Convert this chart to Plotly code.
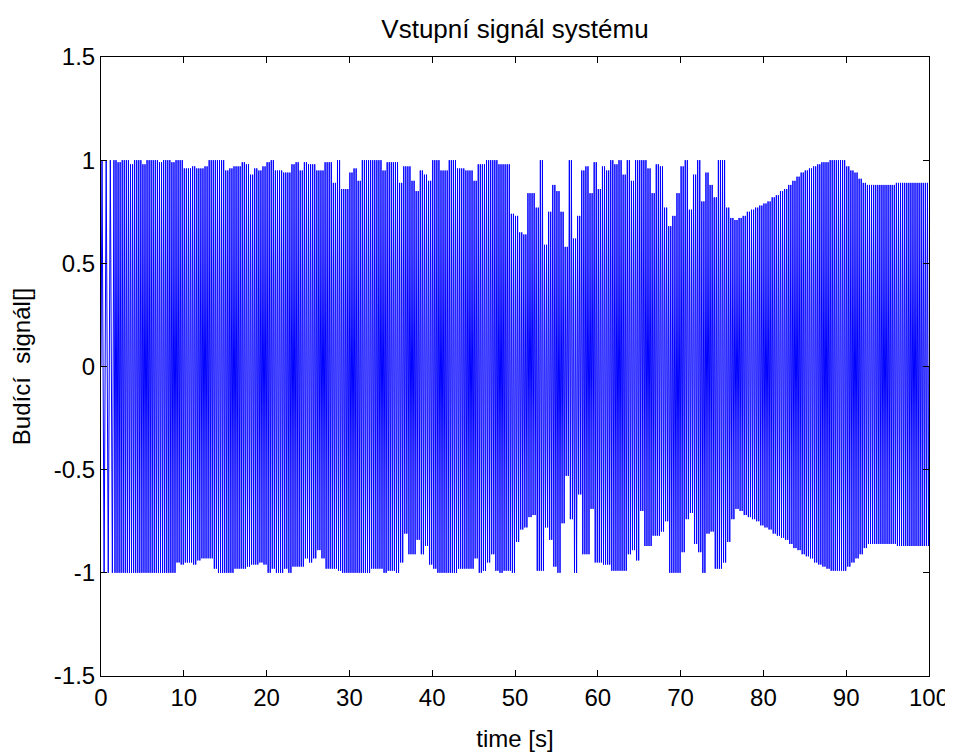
import numpy as np
import plotly.graph_objects as go

# Peak envelope of the oscillating input signal, read per half-second block (t = 0 ... 100 s)
upper_peaks = [
    1.0, 1.0, 1.0, 1.0, 0.99, 1.0, 1.0, 0.98, 1.0, 1.0,
    0.98, 1.0, 1.0, 1.0, 0.99, 1.0, 1.0, 0.99, 1.0, 1.0,
    0.96, 0.96, 0.97, 0.96, 0.96, 0.97, 1.0, 1.0, 1.0, 1.0,
    0.95, 0.96, 0.97, 0.97, 0.99, 0.98, 0.93, 0.96, 0.95, 0.97,
    0.99, 1.0, 0.95, 0.95, 0.94, 0.94, 0.98, 0.99, 0.95, 0.99,
    0.98, 0.98, 0.95, 0.95, 0.99, 0.99, 0.89, 1.0, 0.86, 0.86,
    0.94, 0.96, 0.90, 1.0, 1.0, 1.0, 1.0, 1.0, 0.95, 0.99,
    0.99, 0.99, 0.89, 0.97, 0.97, 0.90, 0.85, 0.95, 0.93, 0.90,
    1.0, 1.0, 0.95, 0.95, 1.0, 1.0, 0.96, 0.96, 0.95, 0.95,
    0.90, 0.98, 0.98, 1.0, 1.0, 1.0, 0.98, 0.98, 0.98, 0.74,
    0.73, 0.65, 0.64, 0.84, 0.84, 0.77, 1.0, 0.59, 0.75, 0.88,
    0.85, 0.75, 0.58, 1.0, 0.62, 0.73, 0.95, 0.97, 0.84, 0.99,
    0.86, 0.97, 0.95, 1.0, 0.98, 1.0, 0.93, 1.0, 0.90, 1.0,
    1.0, 1.0, 0.96, 0.84, 0.98, 0.97, 0.77, 0.68, 0.73, 0.84,
    0.97, 1.0, 0.76, 0.93, 1.0, 0.80, 0.94, 0.88, 0.82, 1.0,
    1.0, 0.77, 0.72, 0.71, 0.72, 0.73, 0.75, 0.76, 0.77, 0.78,
    0.79, 0.80, 0.82, 0.83, 0.85, 0.86, 0.88, 0.90, 0.92, 0.94,
    0.95, 0.96, 0.97, 0.98, 0.99, 0.99, 1.0, 1.0, 1.0, 1.0,
    0.97, 0.95, 0.94, 0.91, 0.89, 0.88, 0.88, 0.88, 0.88, 0.88,
    0.88, 0.88, 0.89, 0.89, 0.89, 0.89, 0.89, 0.89, 0.89, 0.89,
]
lower_peaks = [
    -1.0, -1.0, -1.0, -1.0, -1.0, -1.0, -1.0, -1.0, -1.0, -1.0,
    -1.0, -1.0, -1.0, -1.0, -1.0, -1.0, -1.0, -1.0, -0.95, -0.96,
    -0.95, -0.95, -0.96, -0.94, -0.93, -0.93, -0.93, -0.98, -1.0, -1.0,
    -1.0, -1.0, -0.98, -0.98, -0.98, -0.97, -0.96, -0.96, -0.95, -0.96,
    -1.0, -0.98, -1.0, -1.0, -0.98, -1.0, -0.97, -0.97, -0.97, -0.93,
    -0.95, -0.93, -0.89, -0.93, -0.98, -0.98, -0.98, -0.99, -1.0, -1.0,
    -1.0, -1.0, -1.0, -1.0, -1.0, -0.98, -0.98, -0.98, -1.0, -0.99,
    -0.99, -1.0, -0.95, -0.81, -0.91, -0.91, -0.84, -0.91, -0.87, -0.96,
    -0.98, -1.0, -1.0, -1.0, -1.0, -1.0, -0.98, -0.98, -0.98, -0.98,
    -0.93, -1.0, -0.99, -0.95, -0.91, -0.99, -1.0, -0.99, -0.99, -1.0,
    -0.85, -0.79, -0.78, -0.73, -0.72, -0.99, -0.99, -0.78, -0.84, -0.97,
    -1.0, -0.76, -0.53, -0.74, -1.0, -0.62, -0.91, -0.91, -0.69, -0.95,
    -0.95, -0.96, -0.96, -0.99, -0.99, -0.99, -0.99, -0.91, -0.89, -0.94,
    -0.70, -0.87, -0.87, -0.82, -0.82, -0.80, -0.75, -1.0, -1.0, -1.0,
    -0.90, -0.74, -0.71, -0.86, -0.90, -1.0, -0.81, -0.80, -0.98, -0.98,
    -0.95, -0.85, -0.74, -0.69, -0.70, -0.72, -0.73, -0.74, -0.75, -0.77,
    -0.78, -0.79, -0.81, -0.82, -0.83, -0.84, -0.86, -0.88, -0.89, -0.91,
    -0.92, -0.93, -0.95, -0.96, -0.97, -0.98, -0.99, -0.99, -0.99, -0.99,
    -0.97, -0.95, -0.93, -0.91, -0.88, -0.86, -0.86, -0.86, -0.86, -0.86,
    -0.86, -0.86, -0.87, -0.87, -0.87, -0.87, -0.87, -0.87, -0.87, -0.87,
]
# oscillation cycles in each half-second block (slow start, then dense)
cycles_per_block = [1, 1, 1] + [2] * 197
block_len = 0.5

x_ticks = [0, 10, 20, 30, 40, 50, 60, 70, 80, 90, 100]
y_ticks = [-1.5, -1, -0.5, 0, 0.5, 1, 1.5]
y_tick_labels = ["-1.5", "-1", "-0.5", "0", "0.5", "1", "1.5"]

# build the peak-to-peak trace from the block data
t = [0.0]
u = [0.0]
for i, (hi, lo, n) in enumerate(zip(upper_peaks, lower_peaks, cycles_per_block)):
    t0 = i * block_len
    for k in range(n):
        t.append(t0 + (k + 0.25) * block_len / n)
        u.append(hi)
        t.append(t0 + (k + 0.75) * block_len / n)
        u.append(lo)
t.append(100.0)
u.append(0.0)

fig = go.Figure()
fig.add_trace(go.Scatter(x=t, y=u, mode="lines",
                         line=dict(color="#0000FF", width=1), showlegend=False))

# the page adds an 8 px body margin, so the figure is sized to fit inside it
W, H = 945, 748
font_family = "Liberation Sans, Arial, sans-serif"
fig.update_layout(
    width=W, height=H,
    margin=dict(l=93, r=24, t=49, b=80, autoexpand=False),
    paper_bgcolor="white", plot_bgcolor="white",
    title=dict(text="Vstupní signál systému", x=(515 - 8) / W, xref="container",
               xanchor="center", y=1 - 21 / H, yref="container", yanchor="middle",
               font=dict(family=font_family, size=26, color="black")),
    font=dict(family=font_family, color="black"),
)
fig.update_xaxes(
    range=[0, 100], tickvals=x_ticks, ticktext=[str(v) for v in x_ticks],
    showgrid=False, zeroline=False, showline=True, linecolor="black", linewidth=1,
    mirror="ticks", ticks="inside", ticklen=6, tickcolor="black", automargin=False,
    tickfont=dict(size=24), title=dict(text="time [s]", font=dict(size=24), standoff=20),
)
fig.update_yaxes(
    range=[-1.5, 1.5], tickvals=y_ticks, ticktext=y_tick_labels,
    showgrid=False, zeroline=False, showline=True, linecolor="black", linewidth=1,
    mirror="ticks", ticks="inside", ticklen=6, tickcolor="black", automargin=False,
    tickfont=dict(size=24), title=dict(text="Budící\u00a0 signál[]", font=dict(size=24), standoff=16),
)

fig.write_html("out.html")
